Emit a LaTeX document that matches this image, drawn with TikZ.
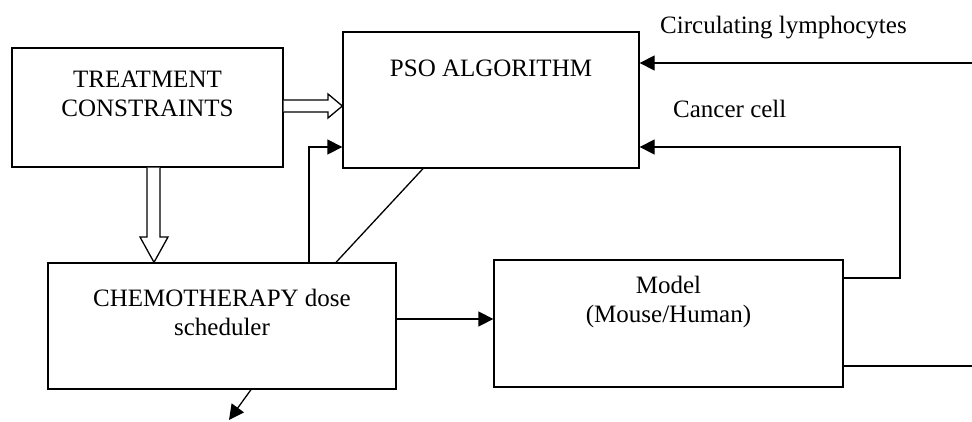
\documentclass[tikz,border=0pt]{standalone}
\usepackage{fontspec}
\setmainfont{Liberation Serif}
\usetikzlibrary{arrows.meta,calc}
\tikzset{
  box/.style={draw, line width=1.3pt, inner sep=0pt},
  lbl/.style={font=\fontsize{25}{29}\selectfont, align=center, inner sep=0pt},
  arr/.style={line width=1.3pt, -{Triangle[length=15pt,width=15pt]}},
  plain/.style={line width=1.3pt},
  hollow/.style={draw, line width=1.3pt, fill=white, line join=miter}
}
\begin{document}
\begin{tikzpicture}[x=1pt,y=-1pt]
\useasboundingbox (0,0) rectangle (972,421);

% blocks
\node[box, minimum width=271pt, minimum height=119pt] (treat) at (147.5,107.5) {};
\node[box, minimum width=296pt, minimum height=136pt] (pso)   at (491,100) {};
\node[box, minimum width=348pt, minimum height=126pt] (chemo) at (222,326) {};
\node[box, minimum width=349pt, minimum height=127pt] (model) at (668.5,323.5) {};

% block texts
\node[lbl] (treattxt) at (147.5,94) {TREATMENT\\CONSTRAINTS};
\node[lbl] (psotxt)   at (491,68) {PSO ALGORITHM};
\node[lbl] (chemotxt) at (222,312) {CHEMOTHERAPY dose\\scheduler};
\node[lbl] (modeltxt) at (668.5,302) {Model\\(Mouse/Human)};

% signal labels
\node[lbl, anchor=base west] (lymph)  at (660,33)  {Circulating lymphocytes};
\node[lbl, anchor=base west] (cancer) at (673,117) {Cancer cell};

% feedback from the model
\coordinate (lymphin) at (972,63);
\draw[arr] (lymphin) -- (pso.east |- lymphin);
\coordinate (loop) at (900,147);
\draw[arr] (model.east |- 0,278) -| (loop) -- (pso.east |- loop);
\coordinate (outr) at (972,366);
\draw[plain] (model.east |- outr) -- (outr);

% dose scheduler links
\draw[arr] (chemo.east |- 0,319) -- (model.west |- 0,319);
\draw[arr] (chemo.north -| 309,0) |- (pso.west |- 0,147);
\draw[plain] (pso.south -| 423,0) -- (chemo.north -| 336,0);

% output of the scheduler
\coordinate (doseout) at (229,420);
\draw[arr] (chemo.south -| 251,0) -- (doseout);

% hollow arrows from the constraints
\draw[hollow] (treat.east |- 0,100) -- (328,100) -- (328,94) -- (pso.west |- 0,106)
  -- (328,118) -- (328,112) -- (treat.east |- 0,112);
\draw[hollow] (treat.south -| 147,0) -- (147,237) -- (140,237) -- (chemo.north -| 154,0)
  -- (168,237) -- (160,237) -- (treat.south -| 160,0);
\end{tikzpicture}
\end{document}
